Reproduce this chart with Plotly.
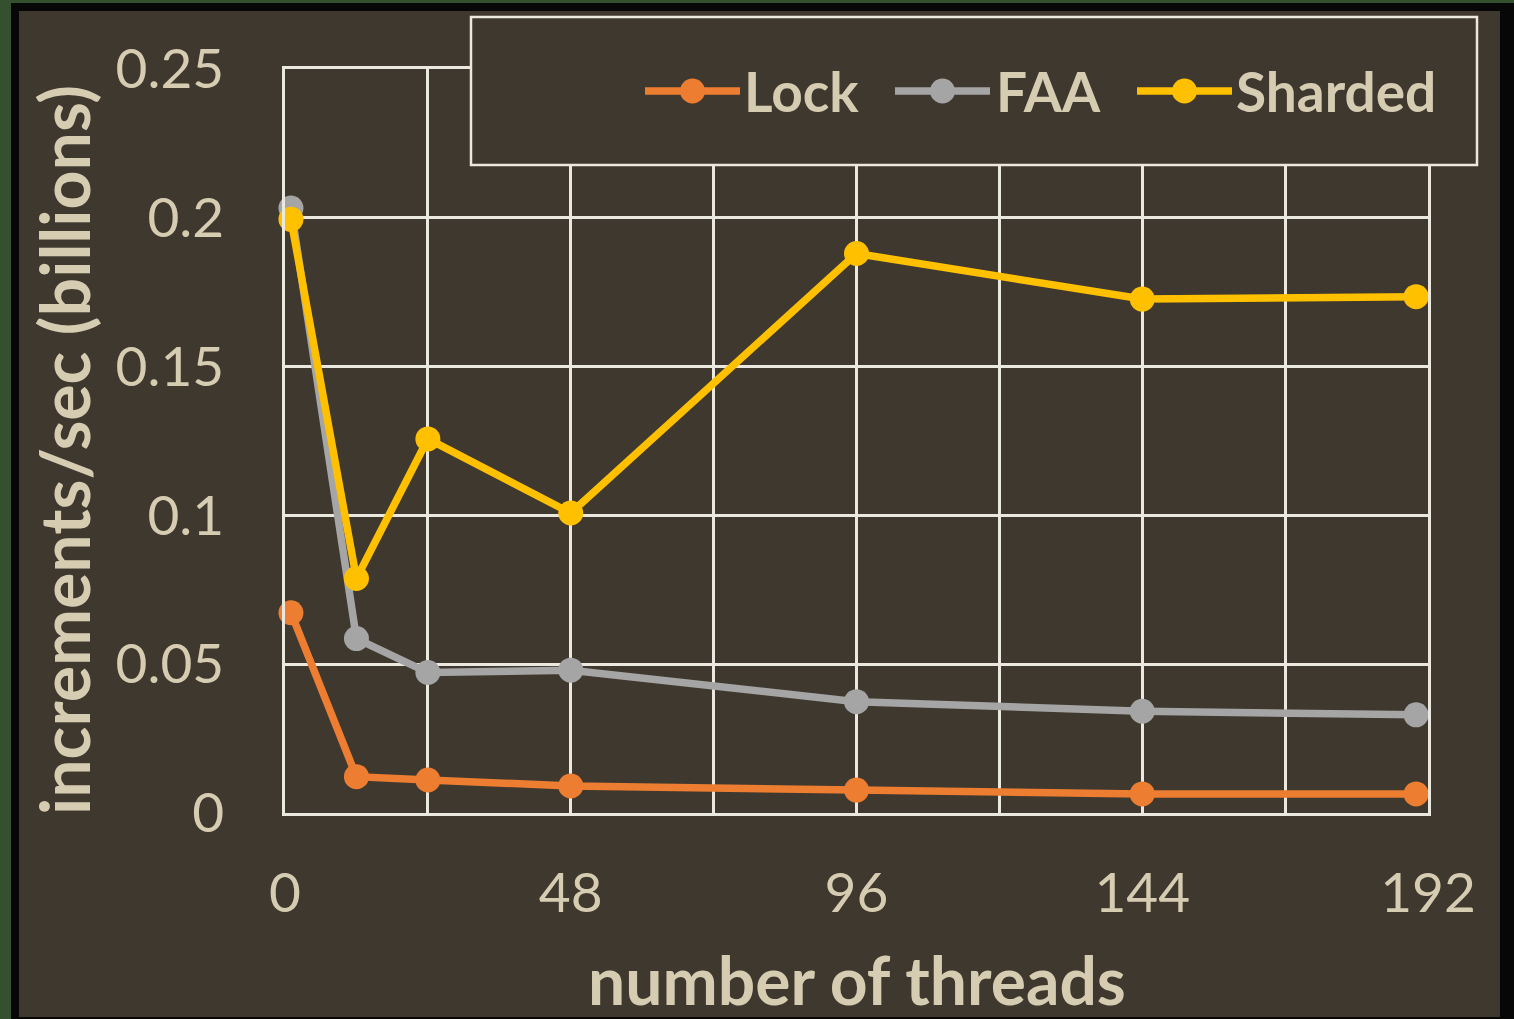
import plotly.graph_objects as go

# Throughput of three counter implementations vs. thread count
threads = [1, 12, 24, 48, 96, 144, 190]
lock = [0.0673, 0.0122, 0.0111, 0.0091, 0.0077, 0.0064, 0.0064]
faa = [0.2033, 0.0586, 0.0472, 0.0480, 0.0374, 0.0342, 0.0330]
sharded = [0.1995, 0.0788, 0.1257, 0.1008, 0.1880, 0.1727, 0.1735]

series_names = ["Lock", "FAA", "Sharded"]
series_values = [lock, faa, sharded]
series_colors = ["#ED7D31", "#A5A5A5", "#FFC000"]

y_tickvals = [0, 0.05, 0.1, 0.15, 0.2, 0.25]
y_ticktext = ["0", "0.05", "0.1", "0.15", "0.2", "0.25"]
x_tickvals = [0, 48, 96, 144, 192]

x_title = "number of threads"
y_title = "increments/sec (billions)"

W, H = 1514, 1019
PL, PR, PT, PB = 285, 1428, 69, 813  # plot area in pixels

BG = "#3f382e"
TXT = "#d6ccb2"
GRID = "#ebe8df"
FONT = "Lato"


def px(x):
    return (x - PL) / (PR - PL)


def py(y):
    return (PB - y) / (PB - PT)


fig = go.Figure()
for name, vals, col in zip(series_names, series_values, series_colors):
    fig.add_trace(go.Scatter(
        x=threads, y=vals, name=name, mode="lines+markers",
        line=dict(color=col, width=7.5),
        marker=dict(color=col, size=25),
        cliponaxis=False, showlegend=False,
    ))

shapes = []
# frame: green edge, black border, brown panel
shapes.append(dict(type="rect", xref="paper", yref="paper", layer="below",
                   x0=px(0), x1=px(11), y0=py(H), y1=py(0),
                   fillcolor="#34502f", line=dict(width=0)))
shapes.append(dict(type="rect", xref="paper", yref="paper", layer="below",
                   x0=px(0), x1=px(W), y0=py(3), y1=py(0),
                   fillcolor="#34502f", line=dict(width=0)))
shapes.append(dict(type="rect", xref="paper", yref="paper", layer="below",
                   x0=px(19), x1=px(1500), y0=py(1017), y1=py(11),
                   fillcolor=BG, line=dict(width=0)))

# legend box
shapes.append(dict(type="rect", xref="paper", yref="paper", layer="above",
                   x0=px(471), x1=px(1477), y0=py(165), y1=py(17),
                   fillcolor=BG, line=dict(color=GRID, width=2.5)))

annotations = []
legend_line_x = [(645, 740), (895, 990), (1137, 1232)]
legend_text_x = [742, 994, 1234]
ly = 91
for name, col, (a, b), tx in zip(series_names, series_colors, legend_line_x, legend_text_x):
    shapes.append(dict(type="line", xref="paper", yref="paper", layer="above",
                       x0=px(a), x1=px(b), y0=py(ly), y1=py(ly),
                       line=dict(color=col, width=7.5)))
    c = (a + b) / 2
    shapes.append(dict(type="circle", xref="paper", yref="paper", layer="above",
                       x0=px(c - 12.5), x1=px(c + 12.5), y0=py(ly + 12.5), y1=py(ly - 12.5),
                       fillcolor=col, line=dict(width=0)))
    annotations.append(dict(xref="paper", yref="paper", x=px(tx), y=py(ly),
                            xanchor="left", yanchor="middle", showarrow=False,
                            text="<b>%s</b>" % name,
                            font=dict(family=FONT, size=55, color=TXT)))

# axis titles
annotations.append(dict(xref="paper", yref="paper", x=0.5, y=py(980),
                        xanchor="center", yanchor="middle", showarrow=False,
                        text="<b>%s</b>" % x_title,
                        font=dict(family=FONT, size=66, color=TXT)))
annotations.append(dict(xref="paper", yref="paper", x=px(63), y=py(450),
                        xanchor="center", yanchor="middle", showarrow=False,
                        textangle=-90, text="<b>%s</b>" % y_title,
                        font=dict(family=FONT, size=68, color=TXT)))

fig.update_layout(
    width=W, height=H,
    margin=dict(l=PL, r=W - PR, t=PT, b=H - PB, autoexpand=False),
    paper_bgcolor="#070707", plot_bgcolor=BG,
    shapes=shapes, annotations=annotations,
    showlegend=False,
    font=dict(family=FONT, color=TXT),
    xaxis=dict(
        range=[0, 192], tickvals=x_tickvals, ticktext=[str(v) for v in x_tickvals],
        showgrid=True, gridcolor=GRID, gridwidth=2.5,
        minor=dict(tickvals=[24, 72, 120, 168], showgrid=True, gridcolor=GRID, gridwidth=2.5),
        showline=True, mirror=True, linecolor=GRID, linewidth=2.5,
        zeroline=False, ticks="", ticklabelstandoff=30, automargin=False,
        tickfont=dict(family=FONT, size=55, color=TXT),
    ),
    yaxis=dict(
        range=[0, 0.25], tickvals=y_tickvals, ticktext=y_ticktext,
        showgrid=True, gridcolor=GRID, gridwidth=2.5,
        showline=True, mirror=True, linecolor=GRID, linewidth=2.5,
        zeroline=False, ticks="", ticklabelstandoff=47, automargin=False,
        tickfont=dict(family=FONT, size=55, color=TXT),
    ),
)

fig.write_html("out.html")
